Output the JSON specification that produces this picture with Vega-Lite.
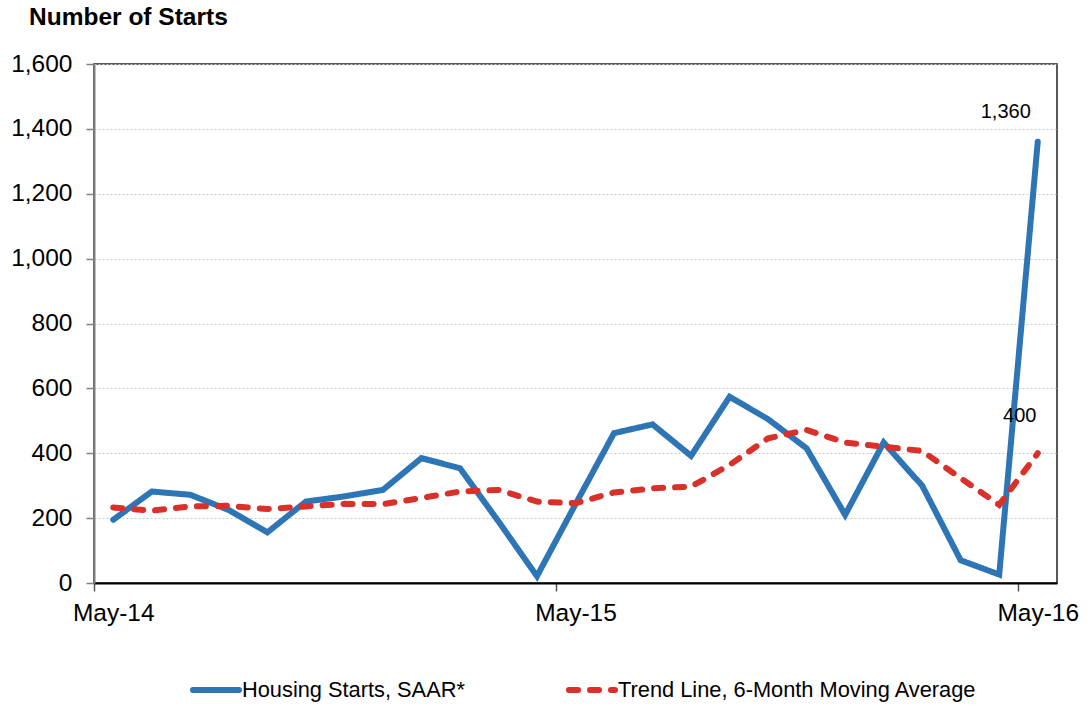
{
  "$schema": "https://vega.github.io/schema/vega-lite/v6.json",
  "autosize": "none",
  "width": 963,
  "height": 519,
  "padding": {"left": 94, "top": 64, "right": 31, "bottom": 128},
  "background": "white",
  "config": {
    "font": "Liberation Sans",
    "view": {"stroke": "#222", "strokeWidth": 1.5},
    "title": {"font": "Liberation Sans"}
  },
  "title": {
    "text": "Number of Starts",
    "anchor": "start",
    "frame": "group",
    "fontSize": 24.5,
    "fontWeight": "bold",
    "color": "#000",
    "baseline": "alphabetic",
    "dx": -65,
    "offset": 2
  },
  "datasets": {
    "starts": [
      {"month": "May-14", "series": "Housing Starts, SAAR*", "value": 195},
      {"month": "Jun-14", "series": "Housing Starts, SAAR*", "value": 282},
      {"month": "Jul-14", "series": "Housing Starts, SAAR*", "value": 272},
      {"month": "Aug-14", "series": "Housing Starts, SAAR*", "value": 225},
      {"month": "Sep-14", "series": "Housing Starts, SAAR*", "value": 156},
      {"month": "Oct-14", "series": "Housing Starts, SAAR*", "value": 251},
      {"month": "Nov-14", "series": "Housing Starts, SAAR*", "value": 267},
      {"month": "Dec-14", "series": "Housing Starts, SAAR*", "value": 287},
      {"month": "Jan-15", "series": "Housing Starts, SAAR*", "value": 385},
      {"month": "Feb-15", "series": "Housing Starts, SAAR*", "value": 354},
      {"month": "Mar-15", "series": "Housing Starts, SAAR*", "value": 190},
      {"month": "Apr-15", "series": "Housing Starts, SAAR*", "value": 21},
      {"month": "May-15", "series": "Housing Starts, SAAR*", "value": 243},
      {"month": "Jun-15", "series": "Housing Starts, SAAR*", "value": 462},
      {"month": "Jul-15", "series": "Housing Starts, SAAR*", "value": 489},
      {"month": "Aug-15", "series": "Housing Starts, SAAR*", "value": 392},
      {"month": "Sep-15", "series": "Housing Starts, SAAR*", "value": 574},
      {"month": "Oct-15", "series": "Housing Starts, SAAR*", "value": 505},
      {"month": "Nov-15", "series": "Housing Starts, SAAR*", "value": 415},
      {"month": "Dec-15", "series": "Housing Starts, SAAR*", "value": 210},
      {"month": "Jan-16", "series": "Housing Starts, SAAR*", "value": 433},
      {"month": "Feb-16", "series": "Housing Starts, SAAR*", "value": 300},
      {"month": "Mar-16", "series": "Housing Starts, SAAR*", "value": 70},
      {"month": "Apr-16", "series": "Housing Starts, SAAR*", "value": 26},
      {"month": "May-16", "series": "Housing Starts, SAAR*", "value": 1360},
      {"month": "May-14", "series": "Trend Line, 6-Month Moving Average", "value": 233},
      {"month": "Jun-14", "series": "Trend Line, 6-Month Moving Average", "value": 223},
      {"month": "Jul-14", "series": "Trend Line, 6-Month Moving Average", "value": 236},
      {"month": "Aug-14", "series": "Trend Line, 6-Month Moving Average", "value": 238},
      {"month": "Sep-14", "series": "Trend Line, 6-Month Moving Average", "value": 228},
      {"month": "Oct-14", "series": "Trend Line, 6-Month Moving Average", "value": 236},
      {"month": "Nov-14", "series": "Trend Line, 6-Month Moving Average", "value": 244},
      {"month": "Dec-14", "series": "Trend Line, 6-Month Moving Average", "value": 243},
      {"month": "Jan-15", "series": "Trend Line, 6-Month Moving Average", "value": 262},
      {"month": "Feb-15", "series": "Trend Line, 6-Month Moving Average", "value": 282},
      {"month": "Mar-15", "series": "Trend Line, 6-Month Moving Average", "value": 287},
      {"month": "Apr-15", "series": "Trend Line, 6-Month Moving Average", "value": 251},
      {"month": "May-15", "series": "Trend Line, 6-Month Moving Average", "value": 246},
      {"month": "Jun-15", "series": "Trend Line, 6-Month Moving Average", "value": 279},
      {"month": "Jul-15", "series": "Trend Line, 6-Month Moving Average", "value": 292},
      {"month": "Aug-15", "series": "Trend Line, 6-Month Moving Average", "value": 297},
      {"month": "Sep-15", "series": "Trend Line, 6-Month Moving Average", "value": 364},
      {"month": "Oct-15", "series": "Trend Line, 6-Month Moving Average", "value": 446},
      {"month": "Nov-15", "series": "Trend Line, 6-Month Moving Average", "value": 472},
      {"month": "Dec-15", "series": "Trend Line, 6-Month Moving Average", "value": 433},
      {"month": "Jan-16", "series": "Trend Line, 6-Month Moving Average", "value": 420},
      {"month": "Feb-16", "series": "Trend Line, 6-Month Moving Average", "value": 407},
      {"month": "Mar-16", "series": "Trend Line, 6-Month Moving Average", "value": 323},
      {"month": "Apr-16", "series": "Trend Line, 6-Month Moving Average", "value": 241},
      {"month": "May-16", "series": "Trend Line, 6-Month Moving Average", "value": 400}
    ]
  },
  "data": {"name": "starts"},
  "encoding": {
    "x": {
      "field": "month",
      "type": "ordinal",
      "sort": null,
      "scale": {"type": "point", "padding": 0.5},
      "axis": {
        "title": null,
        "values": ["May-14", "May-15", "May-16"],
        "labelAngle": 0,
        "labelFontSize": 24.5,
        "labelColor": "#000",
        "labelPadding": 10,
        "tickOffset": -19.26,
        "labelOffset": 19.26,
        "tickSize": 8,
        "tickColor": "#555",
        "tickWidth": 1.5,
        "domainColor": "#000",
        "domainWidth": 2,
        "grid": false
      }
    },
    "y": {
      "field": "value",
      "type": "quantitative",
      "scale": {"domain": [0, 1600], "nice": false},
      "axis": {
        "title": null,
        "values": [0, 200, 400, 600, 800, 1000, 1200, 1400, 1600],
        "format": ",.0f",
        "labelFontSize": 24.5,
        "labelColor": "#000",
        "labelPadding": 14,
        "tickSize": 8,
        "tickColor": "#808080",
        "tickWidth": 1.5,
        "domainColor": "#808080",
        "domainWidth": 2,
        "grid": true,
        "gridColor": "#c8c8c8",
        "gridDash": [2, 2],
        "gridWidth": 1
      }
    }
  },
  "layer": [
    {
      "mark": {"type": "line", "strokeWidth": 6, "strokeCap": "round", "strokeJoin": "miter"},
      "encoding": {
        "color": {
          "field": "series",
          "type": "nominal",
          "scale": {
            "domain": ["Housing Starts, SAAR*", "Trend Line, 6-Month Moving Average"],
            "range": ["#2e75b6", "#d9302a"]
          },
          "legend": {
            "title": null,
            "orient": "none",
            "legendX": 96,
            "legendY": 600,
            "direction": "horizontal",
            "columns": 2,
            "columnPadding": 92,
            "padding": 0,
            "symbolType": "stroke",
            "symbolSize": 2116,
            "symbolStrokeWidth": 6,
            "labelFontSize": 21.8,
            "labelColor": "#000",
            "labelLimit": 600,
            "labelOffset": 0,
            "encode": {"symbols": {"update": {"strokeCap": {"value": "round"}}}}
          }
        },
        "strokeDash": {
          "field": "series",
          "type": "nominal",
          "scale": {
            "domain": ["Housing Starts, SAAR*", "Trend Line, 6-Month Moving Average"],
            "range": [[1, 0], [9, 12]]
          },
          "legend": null
        }
      }
    },
    {
      "transform": [{"filter": "datum.month === 'May-16' && datum.value > 1000"}],
      "mark": {"type": "text", "fontSize": 20, "color": "#000", "dx": -32, "dy": -30},
      "encoding": {"text": {"field": "value", "type": "quantitative", "format": ","}}
    },
    {
      "transform": [{"filter": "datum.month === 'May-16' && datum.value < 1000"}],
      "mark": {"type": "text", "fontSize": 20, "color": "#000", "dx": -18, "dy": -37},
      "encoding": {"text": {"field": "value", "type": "quantitative", "format": ","}}
    }
  ]
}
